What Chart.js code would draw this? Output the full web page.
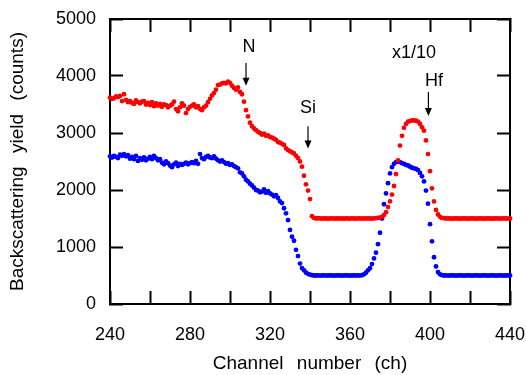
<!DOCTYPE html>
<html>
<head>
<meta charset="utf-8">
<script src="https://cdn.jsdelivr.net/npm/chart.js@4/dist/chart.umd.min.js"></script>
<style>
html,body{margin:0;padding:0;background:#fff;}
#wrap{width:526px;height:375px;}
</style>
</head>
<body>
<div id="wrap"><canvas id="c" width="526" height="375"></canvas></div>
<script>
// Channel numbers (first channel, one point per channel)
const firstChannel = 240;
const xMin = 240, xMax = 440, xStep = 20, xLabelStep = 40;
const yMin = 0, yMax = 5000, yStep = 1000;

// Red series (counts), channels 240..440
const redCounts = [
 3620,3600,3610,3640,3630,3650,3560,3680,3580,3540,
 3560,3530,3510,3570,3540,3520,3550,3560,3500,3530,
 3490,3540,3470,3520,3480,3510,3460,3500,3490,3450,
 3480,3500,3550,3420,3380,3450,3520,3480,3350,3420,
 3460,3480,3500,3450,3470,3420,3400,3450,3480,3540,
 3600,3660,3700,3760,3840,3850,3870,3880,3870,3900,
 3880,3830,3790,3760,3800,3720,3680,3550,3400,3290,
 3180,3120,3080,3050,3020,3000,2970,2990,2950,2960,
 2930,2920,2900,2880,2840,2830,2810,2790,2730,2700,
 2680,2660,2640,2600,2560,2500,2410,2250,2100,1990,
 1840,1540,1510,1500,1505,1500,1498,1502,1500,1497,
 1500,1503,1498,1500,1502,1499,1500,1497,1501,1500,
 1498,1502,1500,1499,1503,1500,1498,1501,1500,1502,
 1500,1499,1502,1505,1510,1515,1530,1560,1610,1700,
 1800,1920,2070,2280,2520,2780,2950,3090,3160,3200,
 3210,3220,3220,3215,3200,3160,3100,3040,2870,2630,
 2330,2030,1800,1650,1570,1530,1510,1505,1500,1502,
 1500,1498,1500,1501,1500,1499,1500,1502,1500,1498,
 1500,1501,1500,1499,1500,1502,1500,1498,1500,1501,
 1500,1499,1500,1502,1500,1498,1500,1501,1500,1499,
 1500
];

// Blue series (counts), channels 240..440
const blueCounts = [
 2590,2570,2600,2580,2560,2620,2600,2630,2590,2610,
 2550,2580,2540,2600,2510,2560,2530,2570,2520,2550,
 2580,2540,2600,2560,2520,2540,2480,2450,2500,2470,
 2430,2400,2450,2480,2420,2460,2440,2460,2480,2450,
 2470,2490,2470,2510,2460,2630,2560,2540,2580,2600,
 2570,2560,2590,2550,2520,2500,2520,2490,2460,2470,
 2440,2450,2420,2400,2380,2310,2290,2240,2180,2150,
 2110,2080,2040,2000,1990,1960,1970,2010,1950,1980,
 1940,1920,1890,1910,1860,1800,1770,1680,1590,1470,
 1300,1180,1110,950,840,710,630,590,550,530,
 515,505,500,500,502,498,500,501,499,500,
 502,500,498,500,501,500,499,500,502,500,
 498,500,501,500,502,498,505,520,550,590,
 630,700,800,900,1050,1250,1500,1750,1940,2120,
 2290,2400,2460,2490,2500,2490,2470,2460,2440,2430,
 2410,2390,2380,2370,2350,2300,2240,2150,1990,1760,
 1400,1100,820,660,560,520,505,500,502,499,
 500,501,500,498,500,502,500,499,500,501,
 500,498,500,502,500,499,500,501,500,498,
 500,502,500,499,500,501,500,498,500,502,
 500
];

// Annotation labels (text, channel, counts)
const labelTexts = ['N', 'Si', 'Hf', 'x1/10'];
const labelChannels = [309.5, 339, 402, 392];
const labelCounts = [4500, 3440, 3910, 4400];
// Arrows (channel, start counts, end counts)
const arrowChannels = [308, 339, 399.2];
const arrowFrom = [4230, 3120, 3720];
const arrowTo = [3830, 2730, 3300];

function toPoints(arr){ return arr.map((v,i)=>({x:firstChannel+i, y:v})); }

const FONT = "'Liberation Sans', Arial, sans-serif";
const GAP = '\u2002\u2009';

const notePlugin = {
  id:'notes',
  afterDatasetsDraw(chart){
    const ctx = chart.ctx;
    const xs = chart.scales.x, ys = chart.scales.y;
    ctx.save();
    ctx.fillStyle = '#000';
    ctx.strokeStyle = '#000';
    ctx.font = '18px ' + FONT;
    ctx.textAlign = 'center';
    ctx.textBaseline = 'middle';
    labelTexts.forEach((t,i)=>{
      ctx.fillText(t, xs.getPixelForValue(labelChannels[i]), ys.getPixelForValue(labelCounts[i]));
    });
    ctx.lineWidth = 1.2;
    arrowChannels.forEach((c,i)=>{
      const px = xs.getPixelForValue(c);
      const y1 = ys.getPixelForValue(arrowFrom[i]);
      const y2 = ys.getPixelForValue(arrowTo[i]);
      ctx.beginPath();
      ctx.moveTo(px, y1); ctx.lineTo(px, y2-6);
      ctx.stroke();
      ctx.beginPath();
      ctx.moveTo(px-3.5, y2-8); ctx.lineTo(px+3.5, y2-8); ctx.lineTo(px, y2);
      ctx.closePath(); ctx.fill();
    });
    ctx.restore();
  }
};

const inGrid = {drawOnChartArea:false, drawTicks:true, tickLength:-13, tickWidth:2, tickColor:'#000'};
const frameBorder = {display:true, color:'#000', width:2};

new Chart(document.getElementById('c'), {
  type:'scatter',
  data:{
    datasets:[
      {data: toPoints(redCounts), backgroundColor:'#ff0000', borderWidth:0, pointRadius:2.4, clip:false},
      {data: toPoints(blueCounts), backgroundColor:'#0000ff', borderWidth:0, pointRadius:2.4, clip:false}
    ]
  },
  options:{
    responsive:false,
    animation:false,
    layout:{padding:{top:19, right:16, left:0, bottom:0}},
    plugins:{legend:{display:false}, tooltip:{enabled:false}},
    scales:{
      x:{
        type:'linear', position:'bottom', min:xMin, max:xMax,
        afterFit(s){ s.height = 71; s.paddingLeft = 0; s.paddingRight = 0; },
        grid:inGrid, border:frameBorder,
        ticks:{stepSize:xStep, autoSkip:false, maxRotation:0, padding:33, color:'#000',
          font:{family:FONT, size:18},
          callback:(v)=> (v % xLabelStep === 0 ? String(v) : '')},
        title:{display:true, text:'Channel' + GAP + 'number' + GAP + '(ch)', color:'#000',
          font:{family:FONT, size:19}, padding:{top:0,bottom:0}}
      },
      xTop:{
        type:'linear', position:'top', min:xMin, max:xMax,
        afterFit(s){ s.height = 0; s.paddingLeft = 0; s.paddingRight = 0; },
        grid:inGrid, border:frameBorder,
        ticks:{stepSize:xStep, display:false}
      },
      y:{
        type:'linear', position:'left', min:yMin, max:yMax,
        afterFit(s){ s.width = 110; s.paddingTop = 0; s.paddingBottom = 0; },
        grid:inGrid, border:frameBorder,
        ticks:{stepSize:yStep, padding:27, color:'#000', font:{family:FONT, size:18},
          callback:(v)=> String(v)},
        title:{display:true, text:'Backscattering' + GAP + 'yield' + GAP + '(counts)', color:'#000',
          font:{family:FONT, size:19}, padding:{top:6,bottom:0}}
      },
      yRight:{
        type:'linear', position:'right', min:yMin, max:yMax,
        afterFit(s){ s.width = 0; s.paddingTop = 0; s.paddingBottom = 0; },
        grid:inGrid, border:frameBorder,
        ticks:{stepSize:yStep, display:false}
      }
    }
  },
  plugins:[notePlugin]
});
</script>
</body>
</html>
